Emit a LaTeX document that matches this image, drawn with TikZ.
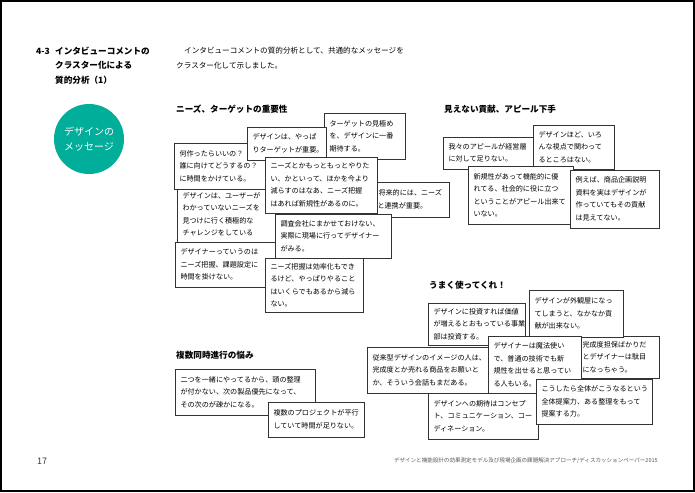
\documentclass[tikz,border=0pt]{standalone}
\usepackage{fontspec}
\setmainfont{Noto Sans CJK JP}
\usepackage{tikz}
\definecolor{themegreen}{HTML}{00AE99}

\begin{document}
\begin{tikzpicture}[x=1pt,y=-1pt,
	cmtbox/.style={draw=black!80,line width=0.9pt,fill=white,anchor=north west,align=left,outer sep=0pt,inner xsep=5.5pt,inner ysep=1pt,
		font=\fontsize{7.1}{12.5}\selectfont},
	headline/.style={anchor=west,inner sep=0pt,font=\fontsize{8.6}{14.5}\selectfont\bfseries}]
\useasboundingbox (0,0) rectangle (695,492);
\fill[white] (0,0) rectangle (695,492);
\draw[line width=1.6pt] (0.8,0.8) rectangle (693.8,491);

\node (title) [headline,anchor=north west,align=left] at (36,46.5) {\makebox[19pt][l]{4-3}インタビューコメントの\\\hspace{19pt}クラスター化による\\\hspace{19pt}質的分析（1）};
\node (intro) [anchor=north west,inner sep=0pt,align=left,font=\fontsize{7.6}{15}\selectfont] at (176,46.5) {\hspace{8pt}インタビューコメントの質的分析として、共通的なメッセージを\\クラスター化して示しました。};
\node (theme) [circle,fill=themegreen,minimum size=70pt,inner sep=0pt,text=white,align=center,font=\fontsize{10}{14.5}\selectfont] at (89,139) {\raisebox{-2.5pt}{デザインの}\\\raisebox{-2.5pt}{メッセージ}};

\node (needs) [headline] at (176,109) {ニーズ、ターゲットの重要性};
\node (cant) [headline] at (444,109) {見えない貢献、アピール下手};
\node (useit) [headline] at (429,285) {うまく使ってくれ！};
\node (multi) [headline] at (176,355) {複数同時進行の悩み};

% needs group
\node (n1) [cmtbox,text width=66pt,minimum height=35pt] at (372,182) {\hspace{1pt}将来的には、ニーズ\\と連携が重要。};
\node (n2) [cmtbox,text width=100pt,minimum height=55pt] at (177,187) {デザインは、ユーザーが\\わかっていないニーズを\\見つけに行く積極的な\\チャレンジをしている};
\node (n3) [cmtbox,text width=100pt,minimum height=46pt] at (174,143) {何作ったらいいの？\\誰に向けてどうするの？\\に時間をかけている。};
\node (n4) [cmtbox,text width=70pt,minimum height=46pt] at (324,113) {ターゲットの見極め\\を、デザインに一番\\期待する。};
\node (n5) [cmtbox,text width=68pt,minimum height=33pt] at (247,127) {デザインは、やっぱ\\りターゲットが重要。};
\node (n6) [cmtbox,text width=100pt,minimum height=45pt] at (175,242) {デザイナーっていうのは\\ニーズ把握、課題設定に\\時間を掛けない。};
\node (n7) [cmtbox,text width=105pt,minimum height=44pt] at (275,214) {調査会社にまかせておけない、\\実際に現場に行ってデザイナー\\がみる。};
\node (n8) [cmtbox,text width=87pt,minimum height=54pt] at (265,258) {ニーズ把握は効率化もでき\\るけど、やっぱりやること\\はいくらでもあるから減ら\\ない。};
\node (n9) [cmtbox,text width=101pt,minimum height=56pt] at (265,157) {ニーズとかもっともっとやりた\\い、かといって、ほかを今より\\減らすのはなあ、ニーズ把握\\はあれば新規性があるのに。};

% cant group
\node (c1) [cmtbox,text width=95pt,minimum height=32pt] at (443,137) {我々のアピールが経営層\\に対して足りない。};
\node (c2) [cmtbox,text width=70pt,minimum height=44pt] at (533,125) {デザインほど、いろ\\んな視点で関わって\\るところはない。};
\node (c3) [cmtbox,text width=94pt,minimum height=58pt] at (468,166) {新規性があって機能的に優\\れてる、社会的に役に立つ\\ということがアピール出来て\\いない。};
\node (c4) [cmtbox,text width=78pt,minimum height=58pt] at (570,170) {例えば、商品企画説明\\資料を実はデザインが\\作っていてもその貢献\\は見えてない。};

% useit group
\node (u1) [cmtbox,text width=99pt,minimum height=46pt] at (428,393) {デザインへの期待はコンセプ\\ト、コミュニケーション、コー\\ディネーション。};
\node (u2) [cmtbox,text width=85pt,minimum height=42pt] at (563,336) {\hspace{14pt}完成度担保ばかりだ\\\hspace{14pt}とデザイナーは駄目\\\hspace{14pt}になっちゃう。};
\node (u3) [cmtbox,text width=86pt,minimum height=42pt] at (428,303) {デザインに投資すれば価値\\が増えるとおもっている事業\\部は投資する。};
\node (u4) [cmtbox,text width=83pt,minimum height=47pt] at (529,290) {デザインが外観屋になっ\\てしまうと、なかなか貢\\献が出来ない。};
\node (u5) [cmtbox,text width=122pt,minimum height=46pt] at (367,347) {従来型デザインのイメージの人は、\\完成度とか売れる商品をお願いと\\か、そういう会話もまだある。};
\node (u6) [cmtbox,text width=82pt,minimum height=57pt] at (488,336) {デザイナーは魔法使い\\で、普通の技術でも新\\規性を出せると思ってい\\る人もいる。};
\node (u7) [cmtbox,text width=105pt,minimum height=45pt] at (536,379) {こうしたら全体がこうなるという\\全体提案力、ある整理をもって\\提案する力。};

% multi group
\node (m1) [cmtbox,text width=129pt,minimum height=46pt] at (175,369) {二つを一緒にやってるから、頭の整理\\が付かない、次の製品優先になって、\\その次のが疎かになる。};
\node (m2) [cmtbox,text width=85pt,minimum height=35pt] at (268,402) {複数のプロジェクトが平行\\していて時間が足りない。};

\node (pageno) [anchor=west,inner sep=0pt,text=black!75,font=\fontsize{9}{11}\selectfont] at (37,461) {17};
\node (footer) [anchor=east,inner sep=0pt,text=black!65,font=\fontsize{5.55}{7}\selectfont] at (658,461) {デザインと機能設計の効果測定モデル及び現場企画の課題解決アプローチ/ディスカッションペーパー2015};
\end{tikzpicture}
\end{document}
